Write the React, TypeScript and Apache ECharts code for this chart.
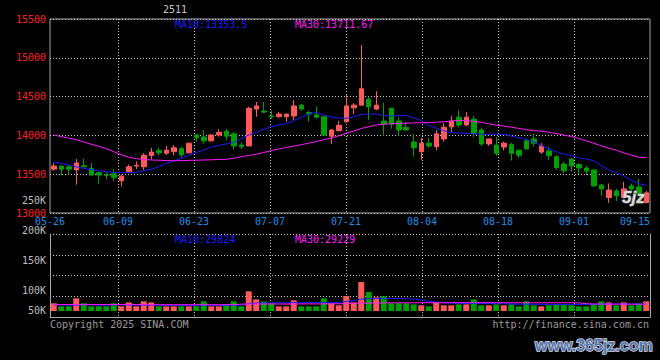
import React, { useEffect, useRef } from 'react';
import * as echarts from 'echarts';

// ---------- data ----------
const dates = [
  '05-26','05-27','05-28','05-29','05-30','06-03','06-04','06-05','06-06',
  '06-09','06-10','06-11','06-12','06-13','06-16','06-17','06-18','06-19','06-20',
  '06-23','06-24','06-25','06-26','06-27','06-30','07-01','07-02','07-03','07-04',
  '07-07','07-08','07-09','07-10','07-11','07-14','07-15','07-16','07-17','07-18',
  '07-21','07-22','07-23','07-24','07-25','07-28','07-29','07-30','07-31','08-01',
  '08-04','08-05','08-06','08-07','08-08','08-11','08-12','08-13','08-14','08-15',
  '08-18','08-19','08-20','08-21','08-22','08-25','08-26','08-27','08-28','08-29',
  '09-01','09-02','09-03','09-04','09-05','09-08','09-09','09-10','09-11','09-12',
  '09-15'
];

const opens = [
  13565,13605,13595,13555,13610,13575,13520,13495,13505,13415,
  13530,13605,13595,13740,13805,13770,13790,13830,13775,14005,
  13980,13930,14005,14055,14020,13875,13865,14340,14315,14250,
  14240,14240,14250,14390,14295,14265,14240,13990,14060,14175,
  14355,14390,14465,14340,14185,14350,14185,14105,13915,13790,
  13900,13855,13955,14110,14235,14135,14210,14070,13890,13875,
  13850,13885,13810,13930,13955,13785,13800,13725,13630,13695,
  13625,13580,13555,13360,13200,13285,13200,13350,13335,13135
];
const closes = [
  13605,13565,13565,13645,13595,13490,13490,13485,13460,13475,
  13595,13615,13745,13785,13775,13810,13840,13750,13900,13970,
  13930,14005,14040,13990,13865,13855,14350,14380,14300,14240,
  14275,14275,14380,14340,14275,14235,14005,14070,14130,14380,
  14390,14600,14370,14390,14145,14145,14070,14070,13840,13900,
  13865,14020,14105,14185,14135,14235,14025,13890,13955,13770,
  13900,13770,13745,13825,13900,13865,13740,13585,13545,13605,
  13580,13540,13350,13310,13295,13220,13310,13310,13245,13260
];
const highs = [
  13640,13615,13615,13695,13700,13645,13525,13520,13565,13495,
  13625,13665,13770,13840,13845,13865,13875,13855,13905,14015,
  14070,14015,14080,14080,14040,13910,14370,14430,14430,14320,
  14305,14275,14455,14405,14320,14370,14250,14080,14185,14520,
  14415,15165,14500,14570,14420,14355,14235,14175,14015,13965,
  13965,14070,14155,14250,14325,14300,14250,14095,13955,13975,
  13920,13900,13810,13960,14020,13900,13855,13745,13660,13705,
  13640,13605,13560,13375,13380,13310,13400,13380,13440,13285
];
const lows = [
  13545,13485,13495,13365,13590,13480,13380,13435,13415,13340,
  13520,13565,13555,13690,13745,13750,13745,13715,13770,13920,
  13895,13920,13985,13940,13820,13825,13860,14240,14285,14215,
  14230,14175,14200,14315,14175,14220,14005,13890,14050,14165,
  14275,14390,14200,14325,13995,14085,13995,14060,13725,13685,
  13840,13810,13920,14045,14105,14120,13970,13865,13865,13735,
  13805,13675,13710,13825,13855,13760,13685,13555,13515,13530,
  13500,13490,13335,13220,13130,13155,13190,13295,13210,13125
];
const ma10 = [
  13655,13640,13618,13595,13575,13560,13545,13533,13522,13520,
  13520,13523,13545,13565,13595,13640,13670,13705,13745,13780,
  13810,13850,13870,13890,13910,13960,14005,14040,14080,14110,
  14135,14150,14190,14235,14275,14297,14262,14240,14225,14220,
  14240,14270,14276,14276,14255,14250,14255,14259,14225,14190,
  14130,14095,14060,14035,14030,14027,14020,14015,14014,14014,
  14014,13990,13970,13945,13920,13870,13825,13790,13760,13740,
  13710,13695,13675,13610,13555,13520,13480,13420,13380,13353.5
];
const ma30 = [
  14005,13985,13965,13945,13915,13885,13860,13830,13790,13750,
  13720,13700,13690,13683,13680,13676,13674,13675,13678,13680,
  13683,13686,13690,13692,13705,13725,13742,13758,13780,13805,
  13825,13845,13862,13880,13900,13920,13945,13965,13995,14030,
  14055,14090,14110,14135,14145,14150,14155,14158,14162,14164,
  14166,14170,14175,14185,14195,14190,14180,14168,14150,14132,
  14120,14105,14090,14075,14060,14055,14040,14025,14005,13985,
  13960,13930,13900,13865,13835,13810,13775,13745,13720,13711.67
];
const volumes = [
  33000,20000,20000,54500,33000,20000,20000,20000,33000,20000,
  37000,20000,41500,37000,20000,20000,20000,20000,20000,20000,
  41500,20000,20000,28500,41500,20000,84500,50000,41500,33000,
  20000,20000,46000,20000,20000,20000,54500,33000,24500,64500,
  37000,124500,81500,59000,63000,33000,33000,33000,28500,24500,
  20000,37000,24500,24500,28500,28500,50000,24500,24500,28500,
  24500,28500,20000,41500,24500,20000,24500,28500,28500,24500,
  20000,20000,28500,41500,37000,24500,37000,24500,31500,41500
];
const volMa10 = [
  26500,26000,25500,26000,26500,26000,25500,25500,26000,26500,
  26000,25500,25000,25500,25000,24500,24500,24500,24000,24000,
  24500,24500,24500,24000,25000,25500,31500,34000,35000,35500,
  35500,35000,36500,35500,36000,36500,36500,35000,37500,41000,
  45000,51000,53000,53500,53500,54000,53500,53000,51000,47000,
  42000,38000,35000,34000,33000,32500,33000,32500,32000,31500,
  31000,30000,29500,29000,29000,28500,28500,28000,28000,27500,
  28000,28500,29000,29500,30000,30500,30000,30500,30000,29824
];
const volMa30 = [
  27500,27500,27500,27500,27500,27500,27500,27500,27500,27500,
  27500,27500,27500,27000,27000,27000,27000,27000,27000,27000,
  27000,27000,27000,27000,27000,29500,29800,30000,30000,30000,
  30000,30000,30000,30500,30500,30500,30500,31000,31000,31500,
  33000,33500,34000,34500,34500,35000,35000,35000,35000,35500,
  35500,35500,35500,36000,36000,36000,36000,36000,36000,36000,
  35500,35500,35500,35500,35500,35500,35500,35500,35500,35500,
  35000,31500,30000,29800,29500,29500,29300,29300,29200,29229
];
const xTickLabels = ['05-26','06-09','06-23','07-07','07-21','08-04','08-18','09-01','09-15'];
const volTickLabels = ['50K','100K','150K','200K','250K'];
const contractName = '2511';

// ---------- layout ----------
const X_SLOTS = [0, 17, 36, 55, 74, 93, 112, 131, 150]; // positions of date ticks on a 151-slot scale
const VOL_SLOTS = [0, 2, 5, 8, 11]; // positions of volume labels on a 12-slot scale
const UP = '#ff5a5a';
const DOWN = '#00a000';
const BLUE = '#1a1aff';
const MAGENTA = '#ff1aff';
const BORDER = '#a8a8a8';
const DOT = '#c8c8c8';
const MONO = '"DejaVu Sans Mono", monospace';
const FONT = '10px ' + MONO;

function buildOption() {
  const slotCats = Array.from({ length: 151 }, (_, k) => String(k));
  const volSlotCats = Array.from({ length: 12 }, (_, k) => String(k));
  const candles = opens.map((o, i) => [o, closes[i], lows[i], highs[i]]);
  const volBars = volumes.map((v, i) => ({
    value: v,
    itemStyle: { color: closes[i] >= opens[i] ? UP : DOWN }
  }));
  const dotted = { color: DOT, width: 1, type: [1, 2] as any };
  const innerTick = (i: number) => i > 0 && i < 150 && X_SLOTS.indexOf(i) >= 0;

  const text = (x: number, y: number, t: string, fill: string, align = 'left', font = FONT, extra: any = {}) => ({
    type: 'text',
    x,
    y,
    silent: true,
    z: 100,
    style: {
      text: t,
      fill,
      font,
      textAlign: align,
      textVerticalAlign: 'middle',
      align,
      verticalAlign: 'middle',
      ...extra
    }
  });

  return {
    animation: false,
    backgroundColor: '#000000',
    grid: [
      { left: 50, top: 19, width: 600, height: 194, show: true, borderColor: BORDER, borderWidth: 1, backgroundColor: 'transparent', outerBoundsMode: 'none' },
      { left: 50, top: 234, width: 600, height: 83, show: false, outerBoundsMode: 'none' },
      { left: 50, top: 200.5, width: 600, height: 110, show: false, outerBoundsMode: 'none' }
    ],
    xAxis: [
      { type: 'category', gridIndex: 0, position: 'bottom', data: dates, boundaryGap: true, show: false },
      {
        type: 'category', gridIndex: 0, position: 'bottom', data: slotCats, boundaryGap: false,
        axisLine: { show: false }, axisTick: { show: false },
        axisLabel: {
          interval: (i: number) => X_SLOTS.indexOf(i) >= 0,
          formatter: (v: string) => {
            const k = X_SLOTS.indexOf(Number(v));
            if (k < 0) return '';
            if (k === X_SLOTS.length - 1) return '{r|' + xTickLabels[k] + '}';
            return xTickLabels[k];
          },
          rich: { r: { padding: [0, 30, 0, 0], color: '#1e8ce6', fontFamily: MONO, fontSize: 10, lineHeight: 7 } },
          color: '#1e8ce6', fontFamily: MONO, fontSize: 10, lineHeight: 7, margin: 5
        },
        splitLine: { show: true, interval: innerTick, lineStyle: dotted }
      },
      { type: 'category', gridIndex: 1, position: 'bottom', data: dates, boundaryGap: true, show: false },
      {
        type: 'category', gridIndex: 1, position: 'bottom', data: slotCats, boundaryGap: false,
        axisLine: { show: true, lineStyle: { color: BORDER, width: 1 } },
        axisTick: { show: true, length: 3, interval: innerTick, lineStyle: dotted },
        axisLabel: { show: false },
        splitLine: { show: true, interval: innerTick, lineStyle: dotted }
      },
      { type: 'value', gridIndex: 2, show: false, min: 0, max: 1 }
    ],
    yAxis: [
      {
        type: 'value', gridIndex: 0, position: 'left', min: 13000, max: 15500, interval: 500,
        axisLine: { show: false }, axisTick: { show: false },
        axisLabel: { color: '#ff2020', fontFamily: MONO, fontSize: 10, lineHeight: 7, margin: 4, formatter: (v: number) => String(v) },
        splitLine: { show: true, lineStyle: dotted }
      },
      {
        type: 'value', gridIndex: 1, position: 'left', min: -25800, max: 331100,
        axisLine: { show: true, lineStyle: { color: BORDER, width: 1 } },
        axisTick: { show: false }, axisLabel: { show: false }, splitLine: { show: false }
      },
      {
        type: 'value', gridIndex: 1, min: 0, max: 4, interval: 1, position: 'right',
        axisLine: { show: true, lineStyle: { color: BORDER, width: 1 } },
        axisTick: { show: false }, axisLabel: { show: false },
        splitLine: { show: true, lineStyle: dotted }
      },
      {
        type: 'category', gridIndex: 2, position: 'left', data: volSlotCats, boundaryGap: false,
        axisLine: { show: false }, axisTick: { show: false }, splitLine: { show: false },
        axisLabel: {
          interval: (i: number) => VOL_SLOTS.indexOf(i) >= 0,
          formatter: (v: string) => {
            const k = VOL_SLOTS.indexOf(Number(v));
            return k >= 0 ? volTickLabels[k] : '';
          },
          color: '#bebebe', fontFamily: MONO, fontSize: 10, lineHeight: 7, margin: 4
        }
      }
    ],
    series: [
      {
        type: 'candlestick', name: 'K', xAxisIndex: 0, yAxisIndex: 0, data: candles,
        barWidth: 5,
        itemStyle: { color: UP, color0: DOWN, borderColor: UP, borderColor0: DOWN, borderWidth: 1 }
      },
      { type: 'line', name: 'MA10', xAxisIndex: 0, yAxisIndex: 0, data: ma10, symbol: 'none', lineStyle: { color: BLUE, width: 1 }, itemStyle: { color: BLUE }, z: 5 },
      { type: 'line', name: 'MA30', xAxisIndex: 0, yAxisIndex: 0, data: ma30, symbol: 'none', lineStyle: { color: MAGENTA, width: 1 }, itemStyle: { color: MAGENTA }, z: 5 },
      { type: 'bar', name: 'VOL', xAxisIndex: 2, yAxisIndex: 1, data: volBars, barWidth: 6 },
      { type: 'line', name: 'VMA10', xAxisIndex: 2, yAxisIndex: 1, data: volMa10, symbol: 'none', lineStyle: { color: BLUE, width: 1 }, itemStyle: { color: BLUE }, z: 5 },
      { type: 'line', name: 'VMA30', xAxisIndex: 2, yAxisIndex: 1, data: volMa30, symbol: 'none', lineStyle: { color: MAGENTA, width: 1 }, itemStyle: { color: MAGENTA }, z: 5 }
    ],
    graphic: [
      text(163, 9, contractName, '#c8c8c8'),
      text(175, 24, 'MA10:' + String(ma10[ma10.length - 1]), BLUE),
      text(295, 24, 'MA30:' + String(ma30[ma30.length - 1]), MAGENTA),
      text(175, 239, 'MA10:' + String(volMa10[volMa10.length - 1]), BLUE),
      text(295, 239, 'MA30:' + String(volMa30[volMa30.length - 1]), MAGENTA),
      text(50, 324, 'Copyright 2025 SINA.COM', '#9a9a9a'),
      text(649, 324, 'http://finance.sina.com.cn', '#9a9a9a', 'right'),
      text(622, 197, '5jz', '#d8d8d8', 'left', 'italic bold 17px "Liberation Sans", sans-serif', { stroke: '#808080', lineWidth: 1 }),
      text(535, 345, 'www.365jz.com', '#5577aa', 'left', 'bold 16px "Liberation Sans", sans-serif', { stroke: '#d8d8e8', lineWidth: 1.5 })
    ]
  };
}

export default function App() {
  const ref = useRef<HTMLDivElement>(null);
  useEffect(() => {
    document.body.style.margin = '0';
    document.body.style.background = '#000';
    const chart = echarts.init(ref.current as HTMLDivElement, null, { renderer: 'svg' });
    chart.setOption(buildOption() as any);
    return () => chart.dispose();
  }, []);
  return <div ref={ref} style={{ width: 660, height: 360, background: '#000' }} />;
}
